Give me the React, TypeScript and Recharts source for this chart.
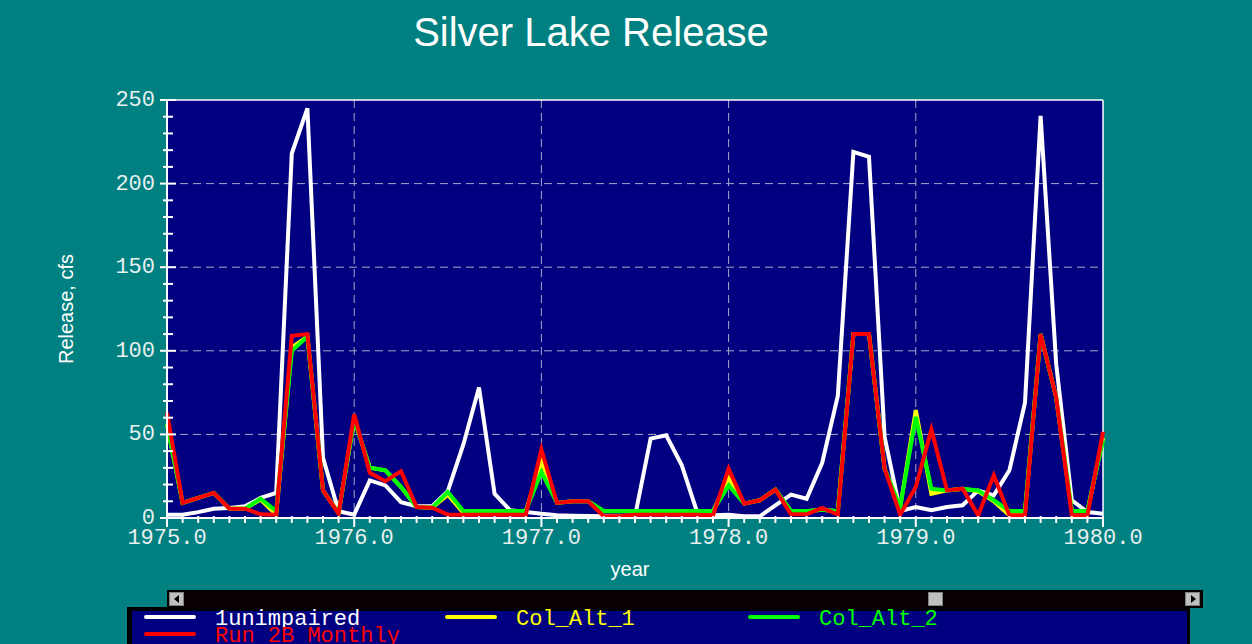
import { LineChart, Line, XAxis, YAxis, CartesianGrid, ReferenceLine } from 'recharts';

// monthly values, Jan 1975 .. Jan 1980 (61 points)
const unimpaired = [
  2, 2, 3.5, 5.5, 6, 7, 12, 15, 218, 245, 36, 4,
  2, 22.5, 19.5, 9.5, 7, 7, 16, 44, 78, 14.5, 4.6, 3.6,
  2.5, 1.6, 1.4, 1.2, 1, 1, 1, 47.5, 49.5, 31.5, 3, 1.6,
  2, 1, 1, 7.6, 14, 11.5, 33, 73, 219, 216, 48.5, 4.2,
  6.6, 4.6, 6.6, 7.6, 16.5, 13.5, 28.5, 69, 240.5, 92, 10.6, 3.6,
  2.6,
];
const colAlt1 = [
  56, 9, 12, 15, 5.6, 5.6, 11, 2, 102, 108.5, 16.5, 3,
  59, 30, 28.5, 18.5, 6.6, 6.2, 14, 3, 4, 4, 4, 4,
  34, 9, 10, 10, 4, 4, 4, 4, 4, 4, 4, 4,
  24, 8.6, 10.6, 17, 4, 4, 5, 4, 110, 110, 29.5, 6.6,
  64.5, 14.5, 16.5, 17.5, 16, 10, 1.6, 4, 110, 72, 4, 4,
  48,
];
const colAlt2 = [
  56, 9, 12, 15, 5.6, 5.6, 11.5, 4.2, 100, 108.5, 16.5, 3,
  59, 30, 28.5, 18.5, 6.6, 6.2, 15.5, 4.2, 4.2, 4.2, 4.2, 4.2,
  27.5, 9, 10, 10, 4.2, 4.2, 4.2, 4.2, 4.2, 4.2, 4.2, 4.2,
  19.5, 8.6, 10.6, 17, 4.2, 4.2, 5, 4, 110, 110, 29.5, 6.6,
  60.5, 17.5, 16.5, 17.5, 16.5, 10.6, 4.2, 4.2, 110, 72, 4.2, 4.2,
  46.5,
];
const run2B = [
  63, 9, 12, 15, 5.6, 5.6, 2.2, 2, 109, 110, 16.5, 2.6,
  62, 27, 22, 28, 6.6, 6.2, 2, 2, 2, 2, 2, 2,
  41, 9, 10, 10, 1, 1, 2, 2, 2, 2, 2, 1.6,
  29.5, 8.6, 10.6, 17, 2.2, 2.2, 6, 2, 110, 110, 29.5, 2,
  18.5, 53, 16.5, 17.5, 1.6, 25.5, 1.6, 1.6, 110, 72, 1.6, 1.6,
  51.5,
];

const yTicks = [0, 10, 20, 30, 40, 50, 60, 70, 80, 90, 100, 110, 120, 130, 140, 150, 160, 170, 180, 190, 200, 210, 220, 230, 240, 250];

const data = unimpaired.map((u, i) => ({
  t: 1975 + i / 12,
  unimpaired: u,
  colAlt1: colAlt1[i],
  colAlt2: colAlt2[i],
  run2B: run2B[i],
}));
const monthTicks = data.map((d) => d.t);

const MONO = '"Liberation Mono", "Courier New", monospace';
const SANS = '"Liberation Sans", Arial, sans-serif';

function XTick(props: any) {
  const { x, y, payload } = props;
  const idx = Math.round((payload.value - 1975) * 12);
  const major = idx % 12 === 0;
  return (
    <g>
      <line x1={x} x2={x} y1={y - 2} y2={y + (major ? 9 : 5)} stroke="#fff" strokeWidth={2} />
      {major && (
        <text x={x} y={y + 26} textAnchor="middle" fill="#e8f0f0" fontFamily={MONO} fontSize={22}>
          {(1975 + idx / 12).toFixed(1)}
        </text>
      )}
    </g>
  );
}

function YTick(props: any) {
  const { x, y, payload } = props;
  const major = payload.value % 50 === 0;
  return (
    <g>
      <line x1={x - (major ? 7 : 4)} x2={x + (major ? 9 : 6)} y1={y} y2={y} stroke="#fff" strokeWidth={2} />
      {major && (
        <text x={x - 12} y={y + 6} textAnchor="end" fill="#e8f0f0" fontFamily={MONO} fontSize={22}>
          {payload.value}
        </text>
      )}
    </g>
  );
}

const legendItems = [
  { label: '1unimpaired', color: '#ffffff', left: 144, top: 617 },
  { label: 'Col_Alt_1', color: '#ffff00', left: 445, top: 617 },
  { label: 'Col_Alt_2', color: '#00ff00', left: 748, top: 617 },
  { label: 'Run 2B Monthly', color: '#ff0000', left: 144, top: 634 },
];

export default function App() {
  return (
    <div style={{ position: 'fixed', left: 0, top: 0, width: 1252, height: 644, background: '#008080', overflow: 'hidden' }}>
      <div style={{ position: 'absolute', left: 0, width: 1182, top: 10, textAlign: 'center', color: '#fff', fontFamily: SANS, fontSize: 40 }}>
        Silver Lake Release
      </div>
      <div
        style={{
          position: 'absolute', left: 66, top: 309, transform: 'translate(-50%, -50%) rotate(-90deg)',
          color: '#fff', fontFamily: SANS, fontSize: 20, whiteSpace: 'nowrap',
        }}
      >
        Release, cfs
      </div>
      <div style={{ position: 'absolute', left: 0, width: 1260, top: 558, textAlign: 'center', color: '#fff', fontFamily: SANS, fontSize: 20 }}>
        year
      </div>

      <div style={{ position: 'absolute', left: 0, top: 0 }}>
        <LineChart width={1252} height={644} data={data} margin={{ top: 100, right: 149, bottom: 86, left: 107 }}>
          <CartesianGrid
            fill="#000080"
            fillOpacity={1}
            stroke="#a8a8c8"
            strokeDasharray="8 5"
            horizontalValues={[50, 100, 150, 200]}
            verticalValues={[1976, 1977, 1978, 1979]}
          />
          <XAxis
            dataKey="t"
            type="number"
            domain={[1975, 1980]}
            ticks={monthTicks}
            interval={0}
            height={40}
            tickSize={0}
            tickMargin={0}
            tickLine={false}
            axisLine={{ stroke: '#fff', strokeWidth: 2 }}
            tick={<XTick />}
          />
          <YAxis
            type="number"
            domain={[0, 250]}
            ticks={yTicks}
            interval={0}
            width={60}
            tickSize={0}
            tickMargin={0}
            tickLine={false}
            axisLine={{ stroke: '#fff', strokeWidth: 2 }}
            tick={<YTick />}
          />
          <ReferenceLine y={250} stroke="#fff" strokeWidth={1.5} />
          <ReferenceLine x={1980} stroke="#fff" strokeWidth={1.5} />
          <Line type="linear" dataKey="unimpaired" stroke="#ffffff" strokeWidth={4} dot={false} isAnimationActive={false} />
          <Line type="linear" dataKey="colAlt1" stroke="#ffff00" strokeWidth={4} dot={false} isAnimationActive={false} />
          <Line type="linear" dataKey="colAlt2" stroke="#00ff00" strokeWidth={4} dot={false} isAnimationActive={false} />
          <Line type="linear" dataKey="run2B" stroke="#ff0000" strokeWidth={4} dot={false} isAnimationActive={false} />
        </LineChart>
      </div>

      {/* scrollbar */}
      <div style={{ position: 'absolute', left: 167, top: 590, width: 1036, height: 18, background: '#080000' }} />
      <div style={{ position: 'absolute', left: 169, top: 592, width: 15, height: 14, background: '#c0c0c0', boxSizing: 'border-box', border: '1px solid #808080' }}>
        <div style={{ position: 'absolute', left: 4, top: 2, width: 0, height: 0, borderTop: '4px solid transparent', borderBottom: '4px solid transparent', borderRight: '5px solid #000' }} />
      </div>
      <div style={{ position: 'absolute', left: 928, top: 592, width: 15, height: 14, background: '#c0c0c0', boxSizing: 'border-box', border: '1px solid #808080' }} />
      <div style={{ position: 'absolute', left: 1185, top: 592, width: 15, height: 14, background: '#c0c0c0', boxSizing: 'border-box', border: '1px solid #808080' }}>
        <div style={{ position: 'absolute', left: 5, top: 2, width: 0, height: 0, borderTop: '4px solid transparent', borderBottom: '4px solid transparent', borderLeft: '5px solid #000' }} />
      </div>

      {/* legend */}
      <div style={{ position: 'absolute', left: 127, top: 607, width: 1063, height: 40, background: '#000000' }} />
      <div style={{ position: 'absolute', left: 132, top: 611, width: 1055, height: 40, background: '#000080' }} />
      {legendItems.map((it) => (
        <div key={it.label}>
          <div style={{ position: 'absolute', left: it.left, top: it.top - 2, width: 52, height: 4, borderRadius: 2, background: it.color }} />
          <div
            style={{
              position: 'absolute', left: it.left + 71, top: it.top - 8, color: it.color,
              fontFamily: MONO, fontSize: 22, lineHeight: '22px', whiteSpace: 'pre',
            }}
          >
            {it.label}
          </div>
        </div>
      ))}
    </div>
  );
}
